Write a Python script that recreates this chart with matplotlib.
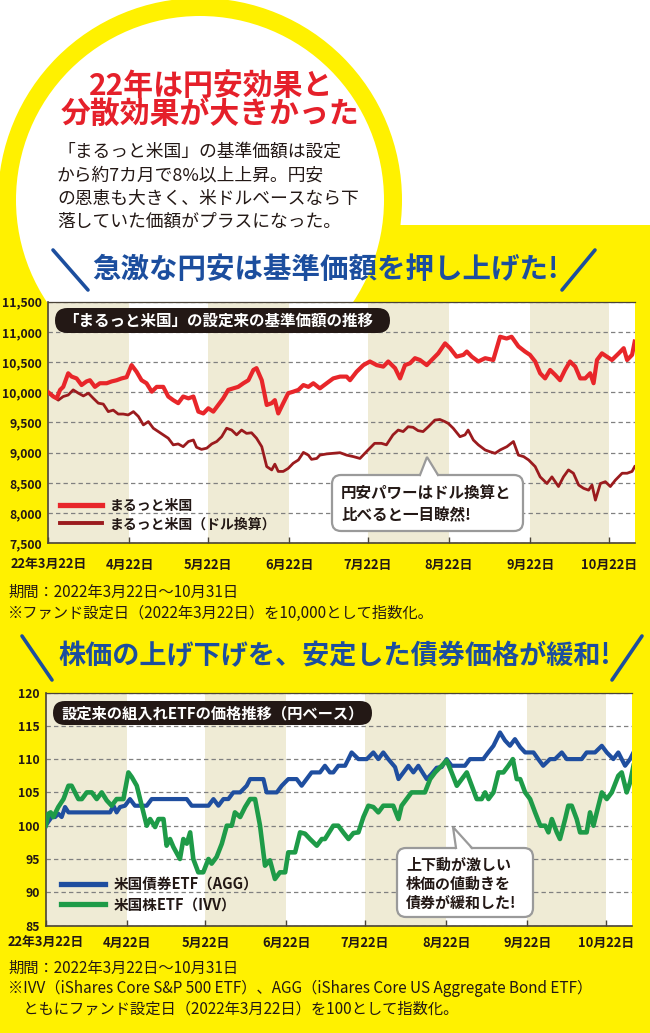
import matplotlib
matplotlib.use('Agg')
import matplotlib.pyplot as plt
from matplotlib.patches import Circle, Rectangle, FancyBboxPatch, Polygon
from matplotlib.ticker import StrMethodFormatter

# colours
YELLOW = '#FFF100'
TITLE_RED = '#E5202A'
HEAD_BLUE = '#1C4E9E'
INK = '#231815'
BEIGE = '#EFEBD5'
GRID = '#808080'
AXIS = '#4a4338'
FUND_RED = '#E8262A'
DOLLAR_RED = '#9B1B1E'
AGG_BLUE = '#1F4E9F'
IVV_GREEN = '#1E9B48'
CALLOUT_EDGE = '#9a9a9a'

JP = ['Noto Sans CJK JP', 'DejaVu Sans']

# x axis: days since 2022-03-22
month_days = [0, 31, 61, 92, 122, 153, 184, 214]
month_labels = ['22年3月22日', '4月22日', '5月22日', '6月22日',
                '7月22日', '8月22日', '9月22日', '10月22日']
end_day = 224

# chart 1: まるっと米国 (yen) and dollar-converted, indexed to 10,000
maru_days = [0, 1.9, 3.2, 4.5, 5.7, 7.6, 8.9, 10.8, 12.7, 14.6,
             15.9, 17.8, 19.7, 22.3, 24.2, 26.1, 28.0, 29.9, 31.8, 33.7,
             35.6, 37.5, 39.5, 41.4, 43.9, 45.8, 47.7, 49.6, 51.5, 53.5,
             55.4, 57.3, 59.2, 61.1, 63.0, 64.9, 66.8, 68.7, 70.6, 72.5,
             74.5, 76.4, 78.3, 79.5, 81.5, 83.4, 85.3, 86.5, 87.8, 89.7,
             91.6, 93.5, 95.5, 97.4, 99.3, 101.2, 103.7, 106.3, 108.8, 111.4,
             113.9, 115.2, 117.7, 120.3, 122.8, 125.4, 127.9, 129.8, 132.4, 134.3,
             136.2, 138.1, 140.0, 141.9, 144.5, 146.4, 148.9, 151.5, 153.4, 155.9,
             158.5, 159.8, 161.7, 164.2, 166.8, 169.9, 172.5, 175.0, 176.9, 179.5,
             182.0, 183.9, 185.9, 187.8, 189.7, 191.6, 193.5, 195.4, 197.3, 199.2,
             201.2, 203.1, 205.0, 206.9, 208.2, 209.5, 211.4, 213.3, 215.2, 217.8,
             219.7, 221.0, 222.9, 223.9]
maru_vals = [10000, 9930, 9900, 10040, 10090, 10315, 10260, 10230, 10120, 10180,
             10200, 10090, 10150, 10150, 10180, 10200, 10230, 10250, 10450, 10340,
             10200, 10150, 10010, 10090, 10090, 9930, 9870, 9820, 9930, 9900,
             9930, 9680, 9650, 9735, 9680, 9790, 9900, 10040, 10065, 10090,
             10150, 10200, 10370, 10400, 10200, 9790, 9820, 9870, 9650, 9820,
             9985, 10010, 10040, 10120, 10090, 10150, 10065, 10150, 10230, 10260,
             10260, 10200, 10340, 10450, 10510, 10450, 10425, 10510, 10400, 10230,
             10450, 10480, 10565, 10535, 10450, 10535, 10645, 10810, 10730, 10590,
             10620, 10675, 10590, 10510, 10565, 10535, 10920, 10890, 10920, 10760,
             10675, 10620, 10510, 10315, 10230, 10370, 10290, 10200, 10370, 10510,
             10425, 10230, 10230, 10315, 10150, 10535, 10645, 10590, 10535, 10645,
             10730, 10535, 10620, 10840]

dollar_days = [0, 1.9, 3.8, 5.7, 7.6, 9.5, 11.5, 13.4, 15.3, 17.2,
               19.1, 21.0, 22.9, 24.8, 26.7, 28.6, 30.5, 32.5, 34.4, 36.3,
               38.2, 40.1, 42.0, 43.9, 45.8, 47.7, 49.6, 51.5, 53.5, 55.4,
               56.6, 58.5, 60.5, 62.4, 64.3, 66.2, 68.1, 70.0, 71.9, 73.8,
               75.7, 77.6, 79.5, 81.5, 83.4, 85.3, 86.5, 87.8, 89.7, 91.6,
               93.5, 95.5, 97.4, 99.3, 100.5, 102.5, 103.7, 106.3, 108.8, 111.4,
               113.9, 116.5, 119.0, 122.1, 124.6, 127.2, 129.1, 131.6, 133.6, 135.5,
               137.4, 139.3, 141.2, 143.1, 145.1, 147.6, 149.5, 151.4, 152.7, 154.6,
               157.2, 159.1, 160.3, 162.3, 164.2, 166.8, 168.7, 170.6, 172.5, 175.1,
               177.6, 179.5, 181.5, 183.4, 185.9, 187.8, 190.4, 192.3, 194.8, 196.7,
               198.6, 200.5, 202.5, 204.4, 206.3, 207.6, 208.9, 210.8, 212.7, 214.6,
               216.5, 219.1, 221.0, 222.9, 223.9]
dollar_vals = [10000, 9940, 9870, 9930, 9955, 10040, 9985, 9940, 9985, 9900,
               9820, 9805, 9680, 9705, 9640, 9640, 9625, 9680, 9600, 9460,
               9515, 9405, 9350, 9295, 9240, 9130, 9145, 9100, 9185, 9210,
               9090, 9055, 9075, 9145, 9185, 9265, 9405, 9375, 9295, 9375,
               9320, 9330, 9240, 9100, 8770, 8715, 8810, 8690, 8690, 8740,
               8825, 8880, 9005, 8960, 8890, 8905, 8960, 8980, 8990, 9000,
               8960, 8935, 8905, 9045, 9155, 9155, 9130, 9295, 9375, 9350,
               9430, 9420, 9365, 9350, 9430, 9540, 9550, 9515, 9485, 9405,
               9265, 9295, 9375, 9210, 9130, 9045, 9015, 8990, 9045, 9100,
               9185, 8960, 8935, 8880, 8770, 8600, 8490, 8600, 8440, 8600,
               8715, 8660, 8465, 8410, 8380, 8465, 8215, 8490, 8520, 8440,
               8545, 8660, 8660, 8690, 8770]

# chart 2: ETFs in yen, indexed to 100
agg_days = [0, 1.0, 2.3, 3.6, 4.8, 6.1, 7.4, 8.7, 10.6, 14.4,
            18.2, 22.0, 24.6, 25.9, 27.1, 28.4, 30.3, 32.2, 34.1, 36.0,
            38.6, 40.5, 43.7, 47.5, 51.3, 53.9, 55.8, 59.0, 62.2, 64.1,
            66.0, 67.9, 69.8, 71.7, 74.3, 76.8, 78.1, 81.3, 83.2, 84.4,
            88.3, 90.2, 92.7, 95.9, 97.8, 99.7, 101.6, 104.8, 106.7, 108.6,
            109.9, 111.8, 114.4, 116.9, 119.5, 122.7, 125.2, 127.1, 129.0, 130.9,
            133.5, 134.8, 136.7, 138.6, 140.5, 142.4, 144.3, 145.6, 147.5, 149.4,
            151.3, 153.2, 155.1, 158.3, 160.2, 162.1, 167.2, 169.1, 171.1, 173.6,
            175.5, 177.4, 179.3, 181.3, 183.2, 186.4, 188.2, 190.1, 192.7, 194.6,
            197.2, 199.1, 204.8, 206.7, 209.9, 212.5, 214.4, 216.9, 218.8, 221.4,
            223.3, 224.6]
agg_vals = [100, 100.6, 101.3, 101.3, 101.8, 101.3, 102.8, 102, 102, 102,
            102, 102, 102, 103, 102, 102.8, 103, 104, 103, 103,
            103, 104, 104, 104, 104, 104, 103, 103, 103, 104,
            103, 104, 104, 105, 105, 106, 107, 107, 107, 105,
            105, 106, 107, 107, 106, 107, 108, 108, 109, 108,
            108, 109, 109, 111, 110, 110, 111, 110, 111, 110,
            108.8, 107, 108, 109, 108, 109, 107.8, 107, 107.8, 108.7,
            108.8, 110, 109, 109, 109, 110, 110, 111, 112, 114,
            112.8, 112, 113, 111.8, 111, 111, 110, 109, 110, 110,
            111, 110, 110, 111, 111, 112, 111, 110, 111, 109,
            110, 111]

ivv_days = [0, 1.0, 1.9, 2.9, 4.8, 6.8, 8.7, 9.9, 12.5, 13.8,
            15.7, 17.6, 19.5, 21.4, 23.3, 25.2, 27.1, 29.7, 31.6, 32.9,
            34.8, 36.7, 38.6, 39.9, 41.8, 43.1, 45.0, 46.2, 47.5, 48.8,
            51.3, 52.6, 53.9, 55.2, 56.4, 58.3, 60.2, 62.2, 63.4, 65.3,
            67.3, 69.2, 71.1, 72.3, 74.3, 76.2, 78.1, 80.0, 81.9, 83.8,
            85.7, 87.6, 89.5, 91.5, 92.7, 95.3, 97.2, 99.1, 101.0, 103.6,
            105.5, 106.7, 109.9, 111.8, 113.7, 115.7, 117.6, 119.5, 121.4, 123.3,
            125.2, 127.1, 129.0, 130.9, 132.8, 134.8, 136.0, 137.9, 139.8, 141.7,
            144.9, 146.9, 148.8, 151.3, 153.2, 155.1, 157.1, 159.0, 160.9, 162.8,
            164.7, 166.6, 167.9, 169.2, 171.1, 173.0, 174.9, 176.8, 178.5, 180.0,
            181.3, 183.2, 185.1, 187.0, 189.0, 190.9, 192.1, 193.4, 195.3, 196.5,
            198.5, 199.7, 201.0, 202.9, 204.2, 206.7, 208.0, 209.3, 211.2, 212.5,
            214.4, 216.3, 218.8, 220.1, 222.0, 223.3, 224.6]
ivv_vals = [100, 101.8, 102, 101.3, 102.8, 104, 106, 106, 104, 104,
            105, 105, 104, 105, 103.8, 103, 104, 104, 108, 107.3,
            106, 103, 100, 101, 99.8, 101, 101, 97, 98, 96.8,
            95, 98, 97.3, 99, 95, 93, 93, 95, 94.3, 95.3,
            97.3, 100, 100, 102, 101.3, 102.8, 104, 104, 100, 94,
            94.8, 92, 93, 93, 96, 96, 99, 98.8, 98, 97,
            98, 98, 100, 100, 99, 98, 98.9, 99, 101.3, 103,
            102.8, 102, 103, 103, 103, 101, 103, 104, 105, 105,
            105, 107, 108, 109, 109.8, 108, 106, 107, 108, 106,
            104, 104, 105, 104, 105, 108, 108, 109, 110, 107,
            107, 105, 104, 102, 100, 100, 99, 101, 99, 98,
            101, 103, 103, 101, 99, 99, 102, 100, 103, 105,
            104, 105, 107.5, 108, 105, 106.5, 109]

W, H = 650, 1033

def px_rect(left, top, right, bottom):
    return [left / W, 1 - bottom / H, (right - left) / W, (bottom - top) / H]


fig = plt.figure(figsize=(6.5, 10.33), dpi=100)
fig.patch.set_facecolor(YELLOW)

# --- background: white top band and the yellow-ringed circle ---
bg = fig.add_axes([0, 0, 1, 1], zorder=0)
bg.set_xlim(0, W)
bg.set_ylim(H, 0)
bg.axis('off')
bg.add_patch(Rectangle((0, 0), W, 225, color='white', lw=0))
bg.add_patch(Circle((200, 200), 202, color=YELLOW, lw=0))
bg.add_patch(Circle((200, 200), 184, color='white', lw=0))


def setup_chart(ax, ylo, yhi, ystep, fmt, xpad):
    for a, b in zip(month_days[0::2], month_days[1::2]):
        ax.axvspan(a, b, color=BEIGE, lw=0, zorder=0)
    ax.set_xlim(0, end_day)
    ax.set_ylim(ylo, yhi)
    ax.set_yticks(range(ylo, yhi + 1, ystep))
    ax.yaxis.set_major_formatter(StrMethodFormatter(fmt))
    ax.set_xticks(month_days)
    ax.set_xticklabels(month_labels)
    ax.grid(axis='y', color=GRID, lw=0.9, ls=(0, (3.5, 2.5)), zorder=1)
    ax.set_axisbelow(True)
    ax.spines['right'].set_visible(False)
    ax.spines['top'].set_color(AXIS)
    ax.spines['top'].set_linewidth(0.9)
    for s in ('left', 'bottom'):
        ax.spines[s].set_color(AXIS)
        ax.spines[s].set_linewidth(1.2)
    ax.tick_params(axis='x', direction='in', length=4, width=1, color=AXIS, pad=xpad)
    ax.tick_params(axis='y', length=0, pad=4.5)
    for lab in ax.get_xticklabels():
        lab.set_fontfamily(JP)
        lab.set_fontweight('bold')
        lab.set_fontsize(9.3)
        lab.set_color(INK)
    for lab in ax.get_yticklabels():
        lab.set_fontfamily(JP)
        lab.set_fontweight('bold')
        lab.set_fontsize(8.8)
        lab.set_color(INK)


# --- chart 1 ---
ax1 = fig.add_axes(px_rect(48.3, 301.7, 48.3 + 2.619 * end_day, 543.3), zorder=1)
setup_chart(ax1, 7500, 11500, 500, '{x:,.0f}', 10.5)
ax1.plot(dollar_days, dollar_vals, color=DOLLAR_RED, lw=2.0,
         solid_joinstyle='round', label='まるっと米国（ドル換算）', zorder=3)
ax1.plot(maru_days, maru_vals, color=FUND_RED, lw=3.0,
         solid_joinstyle='round', label='まるっと米国', zorder=4)
h, l = ax1.get_legend_handles_labels()
leg1 = ax1.legend(h[::-1], l[::-1], loc='upper left',
                  bbox_to_anchor=(60 / W, 1 - 499 / H), bbox_transform=fig.transFigure,
                  frameon=False, handlelength=3.0, handletextpad=0.6,
                  labelspacing=0.3, borderpad=0, borderaxespad=0,
                  prop={'family': JP, 'weight': 'bold', 'size': 10})
for line, w in zip(leg1.get_lines(), (3.8, 2.8)):
    line.set_linewidth(w)
for t in leg1.get_texts():
    t.set_color(INK)

# --- chart 2 ---
ax2 = fig.add_axes(px_rect(45.7, 692.5, 45.7 + 2.617 * end_day, 925.6), zorder=1)
setup_chart(ax2, 85, 120, 5, '{x:.0f}', 7.5)
ax2.plot(agg_days, agg_vals, color=AGG_BLUE, lw=3.0,
         solid_joinstyle='round', label='米国債券ETF（AGG）', zorder=3)
ax2.plot(ivv_days, ivv_vals, color=IVV_GREEN, lw=3.3,
         solid_joinstyle='round', label='米国株ETF（IVV）', zorder=4)
leg2 = ax2.legend(loc='upper left',
                  bbox_to_anchor=(61 / W, 1 - 876 / H), bbox_transform=fig.transFigure,
                  frameon=False, handlelength=3.0, handletextpad=0.6,
                  labelspacing=0.3, borderpad=0, borderaxespad=0,
                  prop={'family': JP, 'weight': 'bold', 'size': 10.5})
for line in leg2.get_lines():
    line.set_linewidth(3.8)
for t in leg2.get_texts():
    t.set_color(INK)

# --- overlay: texts, pills, callouts ---
ov = fig.add_axes([0, 0, 1, 1], zorder=5)
ov.set_xlim(0, W)
ov.set_ylim(H, 0)
ov.axis('off')

ov.text(211, 86, '22年は円安効果と', ha='center', va='center', fontsize=21.5,
        fontweight='bold', color=TITLE_RED, family=JP)
ov.text(210, 115, '分散効果が大きかった', ha='center', va='center', fontsize=21.5,
        fontweight='bold', color=TITLE_RED, family=JP)
body = ['「まるっと米国」の基準価額は設定',
        'から約7カ月で8%以上上昇。円安',
        'の恩恵も大きく、米ドルベースなら下',
        '落していた価額がプラスになった。']
for i, s in enumerate(body):
    ov.text(57, 152 + 23.3 * i, s, ha='left', va='center', fontsize=12.8,
            color=INK, family=JP)


def headline(x, y, s, size, slash_l, slash_r):
    ov.text(x, y, s, ha='left', va='center', fontsize=size, fontweight='bold',
            color=HEAD_BLUE, family=JP)
    for (x0, y0), (x1, y1) in (slash_l, slash_r):
        ov.plot([x0, x1], [y0, y1], color=HEAD_BLUE, lw=2.6, solid_capstyle='round')


headline(92, 270, '急激な円安は基準価額を押し上げた!', 20.5,
         ((53, 250), (88, 290)), ((595, 250), (562, 290)))
headline(58, 656, '株価の上げ下げを、安定した債券価格が緩和!', 19.5,
         ((22, 636), (52, 680)), ((642, 636), (612, 680)))


def pill(x0, y0, x1, y1, s, size):
    ov.add_patch(FancyBboxPatch((x0, y0), x1 - x0, y1 - y0,
                                boxstyle='round,pad=0,rounding_size=%.1f' % ((y1 - y0) / 2),
                                fc=INK, ec='none'))
    ov.text(x0 + 8, (y0 + y1) / 2, s, ha='left', va='center', fontsize=size,
            fontweight='bold', color='white', family=JP)


pill(55, 308, 390, 333, '「まるっと米国」の設定来の基準価額の推移', 11.2)
pill(53, 701, 372, 725, '設定来の組入れETFの価格推移（円ベース）', 11.0)


def callout(x0, y0, x1, y1, tip, base, lines, ys, size):
    ov.add_patch(FancyBboxPatch((x0, y0), x1 - x0, y1 - y0,
                                boxstyle='round,pad=0,rounding_size=9',
                                fc='white', ec=CALLOUT_EDGE, lw=1.6))
    ov.add_patch(Polygon([(base[0], y0 + 2), tip, (base[1], y0 + 2)],
                         closed=True, fc='white', ec='none', zorder=3))
    ov.plot([base[0], tip[0], base[1]], [y0, tip[1], y0], color=CALLOUT_EDGE,
            lw=1.6, zorder=3, solid_joinstyle='miter')
    for s, yy in zip(lines, ys):
        ov.text(x0 + 9, yy, s, ha='left', va='center', fontsize=size,
                fontweight='bold', color=INK, family=JP, zorder=4)


callout(332, 475, 523, 531, (427, 457), (420, 438),
        ['円安パワーはドル換算と', '比べると一目瞭然!'], [493, 515], 11.2)
callout(397, 848, 533, 917, (453, 827), (456, 472),
        ['上下動が激しい', '株価の値動きを', '債券が緩和した!'], [865, 884, 903], 10.8)

notes1 = ['期間：2022年3月22日～10月31日',
          '※ファンド設定日（2022年3月22日）を10,000として指数化。']
for s, yy in zip(notes1, [592, 613]):
    ov.text(8, yy, s, ha='left', va='center', fontsize=11, color=INK, family=JP)
notes2 = ['期間：2022年3月22日～10月31日',
          '※IVV（iShares Core S&P 500 ETF）、AGG（iShares Core US Aggregate Bond ETF）',
          '　ともにファンド設定日（2022年3月22日）を100として指数化。']
for s, yy in zip(notes2, [968, 988, 1009]):
    ov.text(8, yy, s, ha='left', va='center', fontsize=11, color=INK, family=JP)

fig.savefig('out.png', dpi=100, facecolor=YELLOW)
